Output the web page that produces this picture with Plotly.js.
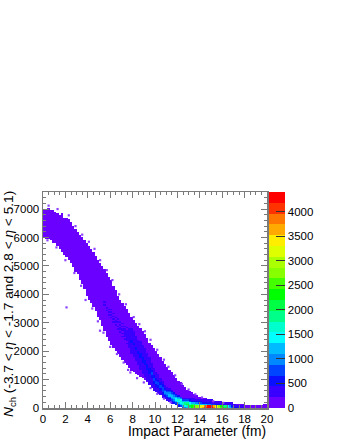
<!DOCTYPE html>
<html><head><meta charset="utf-8">
<script src="https://cdn.plot.ly/plotly-3.0.1.min.js"></script>
<style>html,body{margin:0;padding:0;background:#fff}#c{width:340px;height:440px}</style>
</head><body><div id="c"></div>
<script>
// Impact parameter bin centres (fm), 0.2 fm wide
const binX=[];for(let i=0;i<100;i++)binX.push(+(0.1+0.2*i).toFixed(1));
// N_ch bin centres, 50 wide
const binN=[];for(let j=0;j<152;j++)binN.push(25+50*j);
// Lower and upper edges of the populated band per b bin (in 50-wide N_ch bins)
const bandLow=[120,119,119,118,116,116,114,112,110,108,106,104,102,99,96,94,90,87,84,79,76,74,71,68,64,62,58,54,50,47,44,42,40,38,36,34,32,30,28,26,25,24,23,22,21,20,18,16,15,14,12,11,10,9,8,7,6,5,4,3,2,1,1,0,0,0,0,0,0,0,0,0,0,0,0,0,0,0,0,0,0,0,0,0,0,0,0,0,0,0,0,0,0,0,0,0,0,0,0,0];
const bandHigh=[140,140,141,139,139,138,137,136,137,134,134,133,131,128,126,124,122,120,118,116,114,112,110,107,104,102,100,98,95,92,90,86,83,79,76,74,72,70,67,64,62,60,58,56,54,52,49,46,44,42,40,38,36,33,31,29,27,25,23,21,19,18,16,15,13,12,11,10,9,8,8,7,7,6,6,5,5,5,4,4,4,4,3,3,3,3,3,3,3,3,2,2,2,2,2,2,2,2,3,3];
// Denser ridge: first b bin index, start N_ch bin, and colour level per N_ch bin (1-9,a-k = level 1-20)
const ridgeFirst=27;
const ridgeStart=[71,68,65,62,60,57,55,52,50,47,45,42,38,36,33,30,27,24,22,19,16,14,12,11,10,9,7,6,5,4,3,3,2,1,1,0,0,0,0,0,0,0,0,0,0,0,0,0,0,0,0,0,0,0,0,0,0,0,0,0,0,0,0];
const ridgeLevels=["1212","2121","212121","12121212","21212121","12122121","21211212","1212212121","2121221212","121222222121","212222222212","22222222222222","222222223322222222","222222223322222222","222222223322222222","222222223322222222","22222222333322222222","22222222333322222222","22222222333322222222","22222222333322222222","22222222333322222222","222222233443322222","2222233443322222","22223344332222","22223344332222","222334433222","223344443322","2234554322","2234554322","2234665432","2345665432","34566543","34677643","34678653","4678754","4688642","5799642","68a9642","9a87432","bb96322","cc96322","dd8532","ee7432","gf6432","hg6322","ji6322","kk5322","kk5322","kj4222","ih422","gf322","ed322","cb222","ba22","a922","8722","6522","4322","322","32","22","22","22"];
// Isolated light cells off the band edge (b in fm, N_ch)
const strayB=[2.1,5.09,7.6,0.5,1.3,2.3,2.9,3.5,4.1,4.6,5.1,5.7,6.2,6.8,7.4,8.1,8.6,9.1,9.6,10.2,10.8,11.2,11.8,12.4,13,13.6,14.2,15.2,16.1,0.4,1.2,2,2.8,3.4,3.8,4.4,4.9,5.4,6,6.6,7.2,7.8,8.4,9,9.6,10.2,10.8,11.4];
const strayN=[3540,2720,1340,7120,7000,6780,6400,6100,5850,5600,5200,4850,4500,4000,3650,3200,2950,2700,2400,2050,1700,1450,1150,850,650,480,370,240,180,5900,5650,5200,4750,4300,3800,3500,3050,2650,2150,1900,1600,1250,1050,900,700,500,330,200];
const levelColors=["#6a00ff","#3a00ff","#0a10ff","#0044ff","#0088ff","#00bbff","#00ffff","#00ffcc","#00ff88","#00ff44","#00ff00","#44ff00","#88ff00","#aaff00","#ddff00","#ffee00","#ffaa00","#ff7700","#ff3300","#ff0000"];
const zMax=4400, levelWidth=220;
const yTitle='<i>N</i><sub>ch</sub> (-3.7 &lt; <i>η</i> &lt; -1.7 and 2.8 &lt; <i>η</i> &lt; 5.1)';
const xTitle='Impact Parameter (fm)';

const z=binN.map(()=>binX.map(()=>null));
binX.forEach((b,i)=>{
  for(let j=bandLow[i];j<bandHigh[i];j++) z[j][i]=0.5*levelWidth;
  const k=i-ridgeFirst;
  if(k>=0&&k<ridgeLevels.length){
    [...ridgeLevels[k]].forEach((ch,n)=>{z[ridgeStart[k]+n][i]=(parseInt(ch,36)-0.5)*levelWidth;});
  }
});
const cs=[];levelColors.forEach((c,i)=>{cs.push([i/20,c]);cs.push([(i+1)/20,c]);});
const frame='#7a7a7a';
const fnt='"Liberation Sans",Arial,sans-serif';
Plotly.newPlot('c',[
 {type:'heatmap',x:binX,y:binN,z:z,zmin:0,zmax:zMax,colorscale:cs,zsmooth:false,hoverongaps:false,
 colorbar:{x:1.009,xanchor:'left',xpad:0,ypad:0,y:0,yanchor:'bottom',len:1,thickness:16,outlinewidth:0,
  tickmode:'linear',tick0:0,dtick:500,ticks:'inside',ticklen:9,tickcolor:'#333',tickwidth:1,
  tickfont:{family:fnt,size:11.5,color:'#000'}}},
 {type:'scatter',mode:'markers',x:strayB,y:strayN,marker:{symbol:'square',size:2.2,color:'#8a40ff',line:{width:0}},cliponaxis:true}
 ],
 {width:340,height:440,margin:{l:43,r:73,t:192,b:32},paper_bgcolor:'#fff',plot_bgcolor:'#fff',showlegend:false,
  font:{family:fnt,color:'#000'},
  xaxis:{range:[0,20],tickmode:'linear',tick0:0,dtick:2,ticks:'inside',ticklen:6,tickwidth:1,tickcolor:frame,
   minor:{dtick:0.5,ticks:'inside',ticklen:3,tickcolor:frame,tickwidth:1},
   showgrid:false,zeroline:false,showline:true,linecolor:frame,linewidth:1.5,mirror:'ticks',
   tickfont:{size:11.5,family:fnt}},
  yaxis:{range:[0,7600],tickmode:'linear',tick0:0,dtick:1000,ticks:'inside',ticklen:6,tickwidth:1,tickcolor:frame,
   minor:{dtick:200,ticks:'inside',ticklen:3,tickcolor:frame,tickwidth:1},
   showgrid:false,zeroline:false,showline:true,linecolor:frame,linewidth:1.5,mirror:'ticks',
   tickfont:{size:11.5,family:fnt}},
  annotations:[
   {text:xTitle,xref:'paper',yref:'paper',x:1,y:0,xanchor:'right',yanchor:'top',yshift:-14,xshift:1,showarrow:false,font:{size:13.8,family:fnt,color:'#000'}},
   {text:yTitle,xref:'paper',yref:'paper',x:0,y:0.5,xanchor:'center',yanchor:'middle',xshift:-34,yshift:-4,textangle:-90,showarrow:false,font:{size:13.7,family:fnt,color:'#000'}}
  ]},
 {displayModeBar:false,staticPlot:true});
</script></body></html>
